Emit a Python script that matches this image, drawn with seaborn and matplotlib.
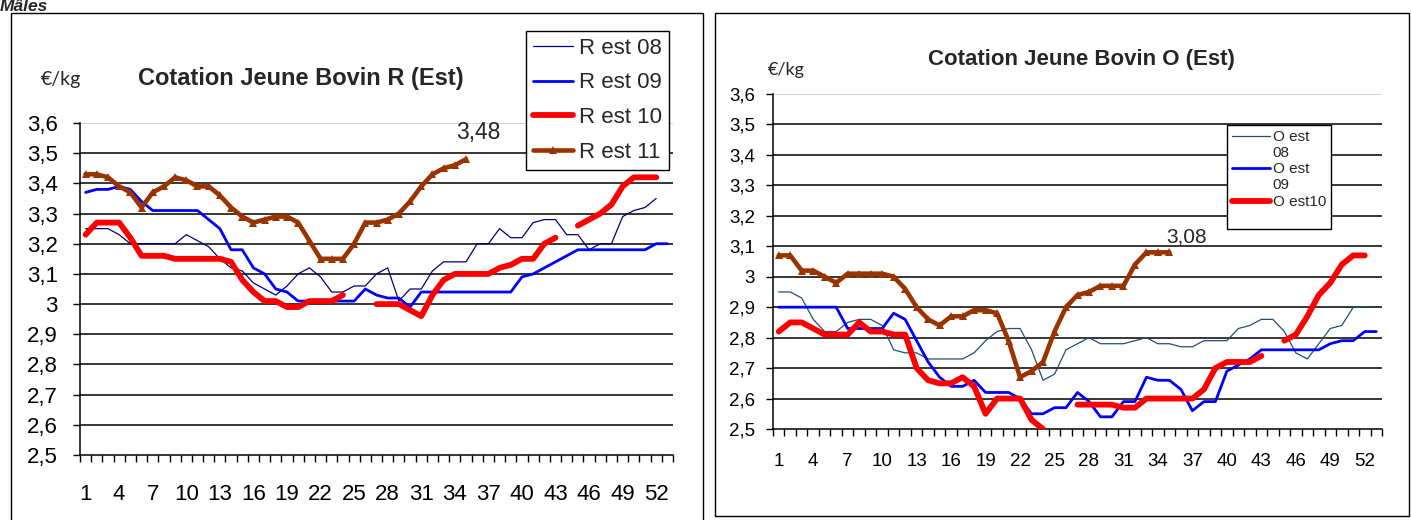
import numpy as np
import pandas as pd
import matplotlib
matplotlib.use('Agg')
import matplotlib.pyplot as plt
import seaborn as sns
from matplotlib.lines import Line2D
from matplotlib.patches import Rectangle
from matplotlib.legend_handler import HandlerLine2D

nan = np.nan
weeks = list(range(1, 54))
week_labels = list(range(1, 53, 3))
y_ticks = [2.5, 2.6, 2.7, 2.8, 2.9, 3.0, 3.1, 3.2, 3.3, 3.4, 3.5, 3.6]

# cotation R (Est), euro/kg, semaines 1..53
r_est_08 = [3.25, 3.25, 3.25, 3.23, 3.20, 3.20, 3.20, 3.20, 3.20, 3.23,
            3.21, 3.19, 3.15, 3.12, 3.11, 3.07, 3.05, 3.03, 3.06, 3.10,
            3.12, 3.09, 3.04, 3.04, 3.06, 3.06, 3.10, 3.12, 3.01, 3.05,
            3.05, 3.11, 3.14, 3.14, 3.14, 3.20, 3.20, 3.25, 3.22, 3.22,
            3.27, 3.28, 3.28, 3.23, 3.23, 3.18, 3.20, 3.20, 3.29, 3.31,
            3.32, 3.35, nan]
r_est_09 = [3.37, 3.38, 3.38, 3.39, 3.38, 3.34, 3.31, 3.31, 3.31, 3.31,
            3.31, 3.28, 3.25, 3.18, 3.18, 3.12, 3.10, 3.05, 3.04, 3.01,
            3.01, 3.01, 3.01, 3.01, 3.01, 3.05, 3.03, 3.02, 3.02, 2.99,
            3.04, 3.04, 3.04, 3.04, 3.04, 3.04, 3.04, 3.04, 3.04, 3.09,
            3.10, 3.12, 3.14, 3.16, 3.18, 3.18, 3.18, 3.18, 3.18, 3.18,
            3.18, 3.20, 3.20]
r_est_10 = [3.23, 3.27, 3.27, 3.27, 3.22, 3.16, 3.16, 3.16, 3.15, 3.15,
            3.15, 3.15, 3.15, 3.14, 3.08, 3.04, 3.01, 3.01, 2.99, 2.99,
            3.01, 3.01, 3.01, 3.03, nan, nan, 3.00, 3.00, 3.00, 2.98,
            2.96, 3.03, 3.08, 3.10, 3.10, 3.10, 3.10, 3.12, 3.13, 3.15,
            3.15, 3.20, 3.22, nan, 3.26, 3.28, 3.30, 3.33, 3.39, 3.42,
            3.42, 3.42, nan]
r_est_11 = [3.43, 3.43, 3.42, 3.39, 3.37, 3.32, 3.37, 3.39, 3.42, 3.41,
            3.39, 3.39, 3.36, 3.32, 3.29, 3.27, 3.28, 3.29, 3.29, 3.27,
            3.21, 3.15, 3.15, 3.15, 3.20, 3.27, 3.27, 3.28, 3.30, 3.34,
            3.39, 3.43, 3.45, 3.46, 3.48] + [nan] * 18

# cotation O (Est)
o_est_08 = [2.95, 2.95, 2.93, 2.86, 2.82, 2.82, 2.85, 2.86, 2.86, 2.84,
            2.76, 2.75, 2.75, 2.73, 2.73, 2.73, 2.73, 2.75, 2.79, 2.82,
            2.83, 2.83, 2.76, 2.66, 2.68, 2.76, 2.78, 2.80, 2.78, 2.78,
            2.78, 2.79, 2.80, 2.78, 2.78, 2.77, 2.77, 2.79, 2.79, 2.79,
            2.83, 2.84, 2.86, 2.86, 2.82, 2.75, 2.73, 2.78, 2.83, 2.84,
            2.90, 2.90, nan]
o_est_09 = [2.90, 2.90, 2.90, 2.90, 2.90, 2.90, 2.83, 2.83, 2.83, 2.83,
            2.88, 2.86, 2.79, 2.72, 2.67, 2.64, 2.64, 2.66, 2.62, 2.62,
            2.62, 2.60, 2.55, 2.55, 2.57, 2.57, 2.62, 2.59, 2.54, 2.54,
            2.59, 2.59, 2.67, 2.66, 2.66, 2.63, 2.56, 2.59, 2.59, 2.69,
            2.71, 2.73, 2.76, 2.76, 2.76, 2.76, 2.76, 2.76, 2.78, 2.79,
            2.79, 2.82, 2.82]
o_est_10 = [2.82, 2.85, 2.85, 2.83, 2.81, 2.81, 2.81, 2.85, 2.82, 2.82,
            2.81, 2.81, 2.70, 2.66, 2.65, 2.65, 2.67, 2.64, 2.55, 2.60,
            2.60, 2.60, 2.53, 2.50, nan, nan, 2.58, 2.58, 2.58, 2.58,
            2.57, 2.57, 2.60, 2.60, 2.60, 2.60, 2.60, 2.63, 2.70, 2.72,
            2.72, 2.72, 2.74, nan, 2.79, 2.81, 2.87, 2.94, 2.98, 3.04,
            3.07, 3.07, nan]
o_est_11 = [3.07, 3.07, 3.02, 3.02, 3.00, 2.98, 3.01, 3.01, 3.01, 3.01,
            3.00, 2.96, 2.90, 2.86, 2.84, 2.87, 2.87, 2.89, 2.89, 2.88,
            2.79, 2.67, 2.69, 2.72, 2.82, 2.90, 2.94, 2.95, 2.97, 2.97,
            2.97, 3.04, 3.08, 3.08, 3.08] + [nan] * 18

NAVY = '#000080'
SLATE = '#1f4e79'
BLUE = '#0000ff'
RED = '#ff0000'
BROWN = '#993300'

sns.set_style('white')
plt.rcParams['font.family'] = ['Liberation Sans', 'DejaVu Sans']

W, H = 1411, 520
fig = plt.figure(figsize=(W / 100, H / 100), dpi=100)


def px_axes(x0, y0, x1, y1):
    return fig.add_axes([x0 / W, 1 - y1 / H, (x1 - x0) / W, (y1 - y0) / H])


def draw_series(ax, vals, color, lw, marker=None):
    df = pd.DataFrame({'semaine': weeks, 'prix': vals})
    df['seg'] = df['prix'].isna().cumsum()  # break the line at gaps
    df = df.dropna()
    sns.lineplot(data=df, x='semaine', y='prix', units='seg', estimator=None,
                 ax=ax, color=color, lw=lw, marker=marker, markersize=6,
                 markeredgewidth=0, solid_capstyle='round',
                 solid_joinstyle='round', legend=False, zorder=3)


def style_axes(ax, fs, xpad, ypad):
    ax.set_xlim(0.5, 53.5)
    ax.set_ylim(2.5, 3.6)
    ax.set_xlabel('')
    ax.set_ylabel('')
    ax.set_yticks(y_ticks)
    ax.set_yticklabels([f'{v:g}'.replace('.', ',') for v in y_ticks])
    ax.set_xticks(np.arange(0.5, 54, 1))
    ax.set_xticklabels([])
    ax.set_xticks(week_labels, minor=True)
    ax.set_xticklabels([str(w) for w in week_labels], minor=True)
    ax.tick_params(axis='x', which='major', direction='out', length=5,
                   width=1, bottom=True, color='black')
    ax.tick_params(axis='x', which='minor', length=0, bottom=True,
                   pad=xpad, labelsize=fs, labelcolor='black')
    ax.tick_params(axis='y', direction='out', length=5, width=1, left=True,
                   pad=ypad, labelsize=fs, color='black', labelcolor='black')
    for v in y_ticks[1:]:
        ax.axhline(v, color='black' if v < 3.55 else '#c8c8c8', lw=1.1,
                   zorder=1)
    for s in ['top', 'right']:
        ax.spines[s].set_visible(False)
    for s in ['left', 'bottom']:
        ax.spines[s].set_color('black')
        ax.spines[s].set_linewidth(1.1)


class TopLineHandler(HandlerLine2D):
    # puts the legend line level with the first row of a two-row label
    def create_artists(self, legend, orig_handle, xdescent, ydescent,
                       width, height, fontsize, trans):
        arts = super().create_artists(legend, orig_handle, xdescent,
                                      ydescent, width, height, fontsize,
                                      trans)
        for a in arts:
            a.set_ydata(np.asarray(a.get_ydata()) + 0.6 * fontsize)
        return arts


# chart frames
fig.patches.append(Rectangle((11 / W, 1 - 528 / H), 692 / W, 515 / H,
                             transform=fig.transFigure, fill=False,
                             ec='black', lw=1))
fig.patches.append(Rectangle((715 / W, 1 - 516 / H), 694 / W, 503 / H,
                             transform=fig.transFigure, fill=False,
                             ec='black', lw=1))
fig.text(0.0, 1 - 11 / H, 'Mâles', fontsize=12.5, fontweight='bold',
         style='italic', va='baseline', ha='left')

# --- left: R ---
ax1 = px_axes(80, 123, 673, 455)
draw_series(ax1, r_est_08, NAVY, 0.9)
draw_series(ax1, r_est_09, BLUE, 2.0)
draw_series(ax1, r_est_10, RED, 4.2)
draw_series(ax1, r_est_11, BROWN, 3.3, marker='^')
style_axes(ax1, 16, 21, 11)
ax1.annotate('3,48', (35, 3.48), xytext=(9, 19), textcoords='offset points',
             ha='center', va='center', fontsize=16.5)
fig.text(301 / W, 1 - 78 / H, 'Cotation Jeune Bovin R (Est)', fontsize=17,
         fontweight='bold', ha='center', va='center')
fig.text(61 / W, 1 - 80 / H, '€/kg', fontsize=14, ha='center', va='center',
         family=['Lato', 'DejaVu Sans'])

h1 = [Line2D([], [], color=NAVY, lw=0.9),
      Line2D([], [], color=BLUE, lw=2.0),
      Line2D([], [], color=RED, lw=4.2),
      Line2D([], [], color=BROWN, lw=3.3, marker='^', markersize=6,
             markeredgewidth=0)]
fig.legend(h1, ['R est 08', 'R est 09', 'R est 10', 'R est 11'],
           loc='upper left', bbox_to_anchor=(526 / W, 1 - 31 / H),
           bbox_transform=fig.transFigure, fontsize=16, frameon=True,
           fancybox=False, edgecolor='black', framealpha=1, borderpad=0.3,
           handlelength=1.8, handletextpad=0.3, labelspacing=0.62,
           borderaxespad=0).get_frame().set_linewidth(1)

# --- right: O ---
ax2 = px_axes(773, 94, 1382, 429)
draw_series(ax2, o_est_08, SLATE, 0.9)
draw_series(ax2, o_est_09, BLUE, 2.0)
draw_series(ax2, o_est_10, RED, 4.2)
draw_series(ax2, o_est_11, BROWN, 3.3, marker='^')
style_axes(ax2, 13.5, 17, 8)
ax2.annotate('3,08', (35, 3.08), xytext=(12, 11), textcoords='offset points',
             ha='center', va='center', fontsize=15)
fig.text(1081 / W, 1 - 60 / H, 'Cotation Jeune Bovin O (Est)', fontsize=16,
         fontweight='bold', ha='center', va='center')
fig.text(786 / W, 1 - 70 / H, '€/kg', fontsize=13, ha='center', va='center',
         family=['Lato', 'DejaVu Sans'])

h2 = [Line2D([], [], color=SLATE, lw=0.9),
      Line2D([], [], color=BLUE, lw=2.0),
      Line2D([], [], color=RED, lw=4.2)]
fig.legend(h2, ['O est\n08', 'O est\n09', 'O est10\n'],
           handler_map={h: TopLineHandler() for h in h2},
           loc='upper left', bbox_to_anchor=(1227 / W, 1 - 125 / H),
           bbox_transform=fig.transFigure, fontsize=11, frameon=True,
           fancybox=False, edgecolor='black', framealpha=1, borderpad=0.3,
           handlelength=2.5, handletextpad=0.2, labelspacing=0.15,
           borderaxespad=0).get_frame().set_linewidth(1)

fig.savefig('out.png', dpi=100, facecolor='white')
